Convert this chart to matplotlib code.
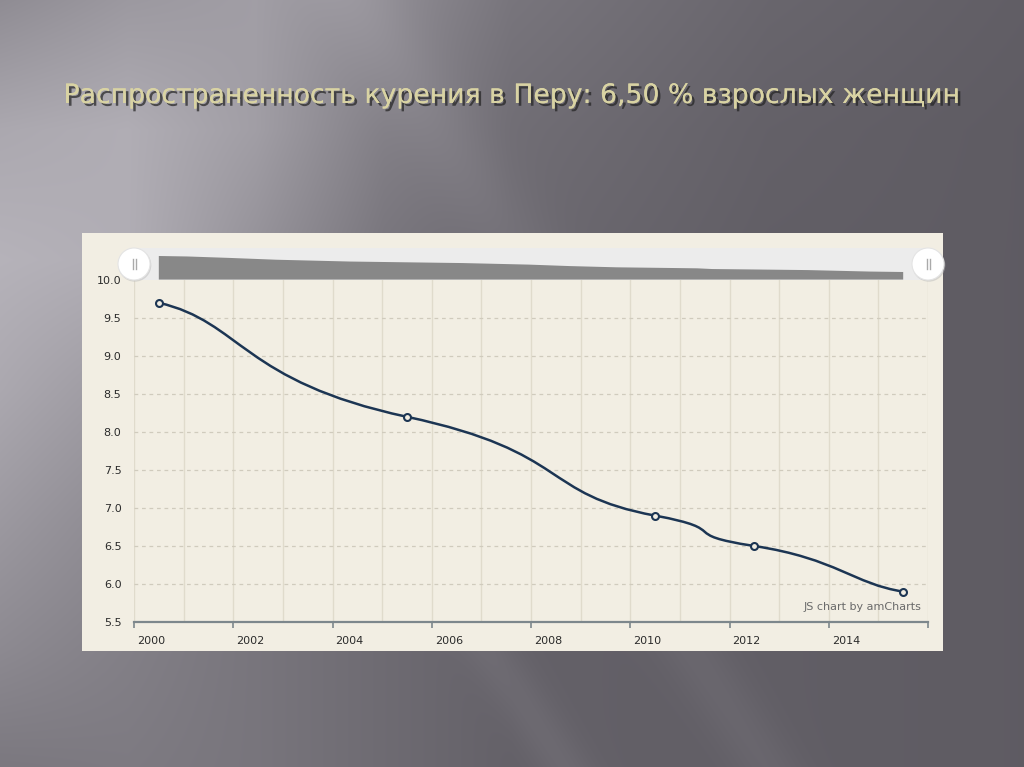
import numpy as np
import matplotlib
matplotlib.use("Agg")
import matplotlib.pyplot as plt
from matplotlib.path import Path
from matplotlib.patches import PathPatch, Rectangle, Circle
from matplotlib.transforms import ScaledTranslation
import matplotlib.patheffects as pe

# ---- data ----
years = [2000, 2005, 2010, 2012, 2015]
values = [9.7, 8.2, 6.9, 6.5, 5.9]
y_ticks = [5.5, 6.0, 6.5, 7.0, 7.5, 8.0, 8.5, 9.0, 9.5, 10.0]
x_ticks = [2000, 2002, 2004, 2006, 2008, 2010, 2012, 2014, 2016]
x_tick_labels = ["2000", "2002", "2004", "2006", "2008", "2010", "2012", "2014", ""]
title = "Распространенность курения в Перу: 6,50 % взрослых женщин"
credit = "JS chart by amCharts"

W, H = 1024, 767
fig = plt.figure(figsize=(W / 100, H / 100), dpi=100)

def fx(px):
    return px / W

def fy(py):
    return 1 - py / H

# ---- slide background (decorative gradient) ----
bg = fig.add_axes([0, 0, 1, 1])
bg.set_axis_off()
gx = np.array([0, 128, 256, 384, 512, 768, 1024], float)
gy = np.array([0, 130, 260, 390, 520, 650, 767], float)
grid = np.array([
    [0.55, 0.60, 0.62, 0.55, 0.46, 0.40, 0.37],
    [0.66, 0.68, 0.62, 0.50, 0.43, 0.38, 0.36],
    [0.70, 0.68, 0.57, 0.46, 0.41, 0.37, 0.36],
    [0.66, 0.60, 0.52, 0.44, 0.40, 0.37, 0.36],
    [0.60, 0.54, 0.48, 0.42, 0.39, 0.37, 0.36],
    [0.54, 0.50, 0.46, 0.42, 0.38, 0.37, 0.36],
    [0.47, 0.48, 0.46, 0.42, 0.38, 0.37, 0.36],
])
xs_px = np.arange(W) + 0.5
ys_px = np.arange(H) + 0.5
rows = np.array([np.interp(xs_px, gx, r) for r in grid])
v = np.array([np.interp(ys_px, gy, rows[:, j]) for j in range(W)]).T
yy, xx = np.mgrid[0:H, 0:W]
s = 0.84 * xx - 0.54 * yy
v += 0.035 * np.exp(-((s - 60) / 25.0) ** 2) * (yy > 450)
v += 0.03 * np.exp(-((s - 230) / 30.0) ** 2) * (yy > 500)
v += 0.03 * np.exp(-((s - 300) / 40.0) ** 2) * (yy < 260)
v = np.clip(v, 0, 1)
img = np.clip(np.dstack([v + 0.012, v, v + 0.028]), 0, 1)
bg.imshow(img, extent=[0, 1, 0, 1], aspect="auto", zorder=0, interpolation="bilinear")
bg.set_xlim(0, 1)
bg.set_ylim(0, 1)

# chart panel
bg.add_patch(Rectangle((fx(82), fy(651)), fx(943 - 82), (651 - 233) / H,
                       facecolor="#f2eee3", edgecolor="none", zorder=1))

# title
t = bg.text(0.5, fy(103), title, ha="center", va="baseline", fontsize=18,
            family="DejaVu Sans", color="#d9d3a3", zorder=3,
            path_effects=[pe.withSimplePatchShadow(offset=(2, -2), shadow_rgbFace="#222222", alpha=0.7),
                          pe.Normal()])
fig.canvas.draw()
ext = t.get_window_extent()
t.set_fontsize(18 * 896 / ext.width)

# ---- amCharts-style smoothing (control points from neighbouring knots) ----
xs = [y_ + 0.5 for y_ in years]

def bezier_vertices(x, y):
    n = len(x)
    pts = [(x[0], y[0]), (x[0] + (x[1] - x[0]) / 3, y[0] + (y[1] - y[0]) / 6)]
    for i in range(1, n - 1):
        sx = x[i + 1] - x[i - 1]
        sy = y[i + 1] - y[i - 1]
        hx = sx / 3
        hy = sy / 6
        left = min(hx, 0.8 * (x[i] - x[i - 1]))
        right = min(hx, 0.8 * (x[i + 1] - x[i]))
        pts.append((x[i] - left, y[i] - hy * left / hx))
        pts.append((x[i], y[i]))
        pts.append((x[i] + right, y[i] + hy * right / hx))
    pts.append((x[-1] - (x[-1] - x[-2]) / 3, y[-1] - (y[-1] - y[-2]) / 6))
    pts.append((x[-1], y[-1]))
    codes = [Path.MOVETO] + [Path.CURVE4] * (len(pts) - 1)
    return pts, codes

# ---- main plot ----
ax = fig.add_axes([fx(134), fy(622), fx(928 - 134), (622 - 280) / H])
ax.set_facecolor("none")
ax.set_xlim(2000, 2016)
ax.set_ylim(5.5, 10.0)
for sp in ["top", "right", "left"]:
    ax.spines[sp].set_visible(False)
ax.spines["bottom"].set_color("#7d878c")
ax.spines["bottom"].set_linewidth(1.6)

for yr in range(2000, 2017):
    ax.axvline(yr, color="#e0dbcc", lw=1.0, zorder=1)
for yv in y_ticks[1:-1]:
    ax.axhline(yv, color="#d0cbbd", lw=0.9, ls=(0, (3, 3)), zorder=1)

ax.set_yticks(y_ticks)
ax.set_yticklabels([f"{t_:.1f}" for t_ in y_ticks])
ax.set_xticks(x_ticks)
ax.set_xticklabels(x_tick_labels)
ax.tick_params(axis="y", length=0, pad=9, labelsize=8, labelcolor="#2b2b2b")
ax.tick_params(axis="x", length=4, width=1.2, color="#7d878c", direction="out",
               pad=6, labelsize=8, labelcolor="#2b2b2b")
for lbl in ax.get_xticklabels():
    lbl.set_horizontalalignment("left")
    lbl.set_transform(lbl.get_transform() + ScaledTranslation(3 / 100, 0, fig.dpi_scale_trans))
for lbl in ax.get_xticklabels() + ax.get_yticklabels():
    lbl.set_family("DejaVu Sans")

verts, codes = bezier_vertices(xs, values)
ax.add_patch(PathPatch(Path(verts, codes), facecolor="none", edgecolor="#1c3553", lw=1.8, zorder=3))
ax.plot(xs, values, ls="none", marker="o", ms=5, mfc="#f2eee3", mec="#1c3553", mew=1.5, zorder=4)

ax.text(0.992, 0.03, credit, transform=ax.transAxes, ha="right", va="bottom",
        fontsize=8, color="#6a6a6a", family="DejaVu Sans")

# ---- scrollbar ----
sb = fig.add_axes([fx(134), fy(280), fx(928 - 134), (280 - 248) / H])
sb.set_axis_off()
sb.set_xlim(2000, 2016)
sb.set_ylim(4.0, 11.6)
sb.add_patch(Rectangle((1999.9, 4.0), 16.2, 7.6, facecolor="#ececec", edgecolor="none", zorder=1))
sv, sc = bezier_vertices(xs, values)
fill_verts = [(xs[0], 4.1)] + sv + [(xs[-1], 4.1), (xs[0], 4.1)]
fill_codes = [Path.MOVETO, Path.LINETO] + sc[1:] + [Path.LINETO, Path.CLOSEPOLY]
sb.add_patch(PathPatch(Path(fill_verts, fill_codes), facecolor="#888888", edgecolor="none", zorder=2))

# grips
for gxp in (134, 928):
    grip_ax = fig.add_axes([fx(gxp - 20), fy(284), fx(40), 40 / H])
    grip_ax.set_axis_off()
    grip_ax.set_xlim(-20, 20)
    grip_ax.set_ylim(-20, 20)
    grip_ax.set_aspect("equal")
    grip_ax.add_patch(Circle((0.8, -1.2), 16.5, facecolor="#bbbbbb", alpha=0.5, edgecolor="none"))
    grip_ax.add_patch(Circle((0, 0), 16, facecolor="white", edgecolor="#e4e4e4", lw=0.8))
    grip_ax.plot([-1.5, -1.5], [-5, 5], color="#aaaaaa", lw=1.0)
    grip_ax.plot([1.5, 1.5], [-5, 5], color="#aaaaaa", lw=1.0)

fig.savefig("out.png", dpi=100)
